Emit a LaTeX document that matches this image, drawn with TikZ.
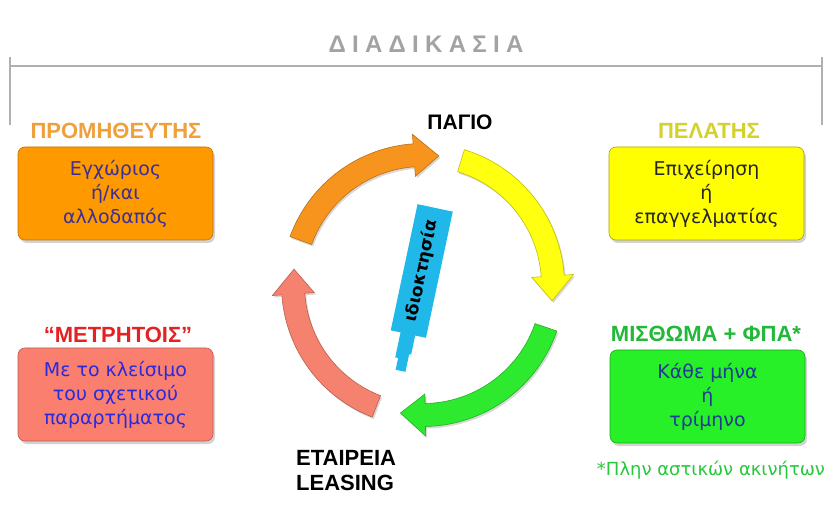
\documentclass[tikz,border=0pt]{standalone}
\usepackage{fontspec}
\setmainfont{Liberation Sans}
\newfontfamily\dejavu{DejaVu Sans}
\usetikzlibrary{shadows}
\definecolor{arrorange}{HTML}{F7941D}
\definecolor{boxorange}{HTML}{FF9900}
\definecolor{arryellow}{HTML}{FFFF10}
\definecolor{boxyellow}{HTML}{FFFF00}
\definecolor{arrgreen}{HTML}{2EEA2E}
\definecolor{boxgreen}{HTML}{28F028}
\definecolor{arrsalmon}{HTML}{F5826E}
\definecolor{boxsalmon}{HTML}{FA7F6F}
\definecolor{txtpurple}{HTML}{3A3096}
\definecolor{txtdark}{HTML}{262626}
\definecolor{txtblue}{HTML}{2A2ADB}
\definecolor{txtnavy}{HTML}{1F3A93}
\definecolor{lblorange}{HTML}{EFA03C}
\definecolor{lblyellow}{HTML}{D4D22A}
\definecolor{lblred}{HTML}{E52222}
\definecolor{lblgreen}{HTML}{22B83A}
\definecolor{notegreen}{HTML}{26C83C}
\definecolor{tagblue}{HTML}{20B8E8}
\definecolor{rulegray}{HTML}{B0B0B0}
\definecolor{titlegray}{HTML}{A3A3A3}
\newcommand\tk{\kern6.3pt}
\newcommand\cyclearrow[3]{%
  \pgfmathsetmacro\arrhb{#2-11}%
  \filldraw[fill=#3, draw=#3!75!black, arrowstyle]
    plot[domain=#1:\arrhb, samples=40] (\x:141.5) -- (\arrhb:151) -- (#2:130)
    -- (\arrhb:109) -- plot[domain=\arrhb:#1, samples=40] (\x:118.5) -- cycle;}
\begin{document}
\begin{tikzpicture}[x=1pt,y=-1pt,
  box/.style={rounded corners=7pt, minimum width=195pt, minimum height=93pt,
    align=center, inner sep=0pt, line width=0.6pt,
    font=\dejavu\fontsize{19}{24}\selectfont,
    drop shadow={shadow xshift=2pt, shadow yshift=-3pt, opacity=0.35}},
  lbl/.style={anchor=base, inner sep=0pt, font=\bfseries\fontsize{22}{26}\selectfont},
  arrowstyle/.style={line width=0.6pt,
    drop shadow={shadow xshift=1.5pt, shadow yshift=-2pt, opacity=0.3}},
  tagbox/.style={fill=tagblue, minimum width=129pt, minimum height=36pt, inner sep=0pt,
    font=\dejavu\bfseries\fontsize{17}{19}\selectfont, text=black}]
\useasboundingbox (0,0) rectangle (833,521);
\fill[white] (0,0) rectangle (833,521);

% title and bracket
\node[anchor=base, inner sep=0pt, text=titlegray, font=\bfseries\fontsize{24}{30}\selectfont] (title) at (426,53) {Δ\tk Ι\tk Α\tk Δ\tk Ι\tk Κ\tk Α\tk Σ\tk Ι\tk Α};
\draw[rulegray, line width=1.6pt] (10,57) -- (10,125);
\draw[rulegray, line width=1.6pt] (822,57) -- (822,125);
\draw[rulegray, line width=1.6pt] (10,66) -- (822,66);

% cycle arrows
\begin{scope}[shift={(423,285)}]
  \cyclearrow{-160}{-83}{arrorange}
  \cyclearrow{-73}{7}{arryellow}
  \cyclearrow{19}{100}{arrgreen}
  \cyclearrow{111}{187}{arrsalmon}
\end{scope}

% ownership tag
\node[tagbox, rotate=78] (tag) at (421.75,271) {ιδιοκτησία};
\begin{scope}[shift={(tag.center)}, rotate=78]
  \fill[tagblue] (-64,7) -- (-84,7) -- (-84,5) -- (-102,5) -- (-102,-5) -- (-90,-5)
    -- (-90,-8) -- (-64,-8) -- cycle;
\end{scope}

% labels
\node[lbl, text=lblorange] (lprom) at (116,139) {ΠΡΟΜΗΘΕΥΤΗΣ};
\node[lbl, text=lblyellow] (lpel) at (709,139) {ΠΕΛΑΤΗΣ};
\node[lbl, text=lblred] (lmet) at (118,343) {“ΜΕΤΡΗΤΟΙΣ”};
\node[lbl, text=lblgreen] (lmis) at (706,342) {ΜΙΣΘΩΜΑ + ΦΠΑ*};
\node[lbl, text=black, font=\bfseries\fontsize{21}{25}\selectfont] (pagio) at (460,130) {ΠΑΓΙΟ};
\node[anchor=north west, inner sep=0pt, align=left, text=black,
  font=\bfseries\fontsize{22}{25}\selectfont] (leasing) at (296,450) {ΕΤΑΙΡΕΙΑ\\LEASING};
\node[anchor=base, inner sep=0pt, text=notegreen, font=\dejavu\fontsize{18}{22}\selectfont] (note) at (711,475) {*Πλην αστικών ακινήτων};

% boxes
\node[box, fill=boxorange, draw=boxorange!75!black, text=txtpurple] (prom) at (115.5,193.5) {Εγχώριος\\ή/και\\αλλοδαπός};
\node[box, fill=boxyellow, draw=boxyellow!65!black, text=txtdark] (pel) at (706.5,193.5) {Επιχείρηση\\ή\\επαγγελματίας};
\node[box, fill=boxsalmon, draw=boxsalmon!75!black, text=txtblue] (met) at (115.5,394.5) {Με το κλείσιμο\\του σχετικού\\παραρτήματος};
\node[box, fill=boxgreen, draw=boxgreen!70!black, text=txtnavy] (mis) at (707.5,396.5) {Κάθε μήνα\\ή\\τρίμηνο};
\end{tikzpicture}
\end{document}
